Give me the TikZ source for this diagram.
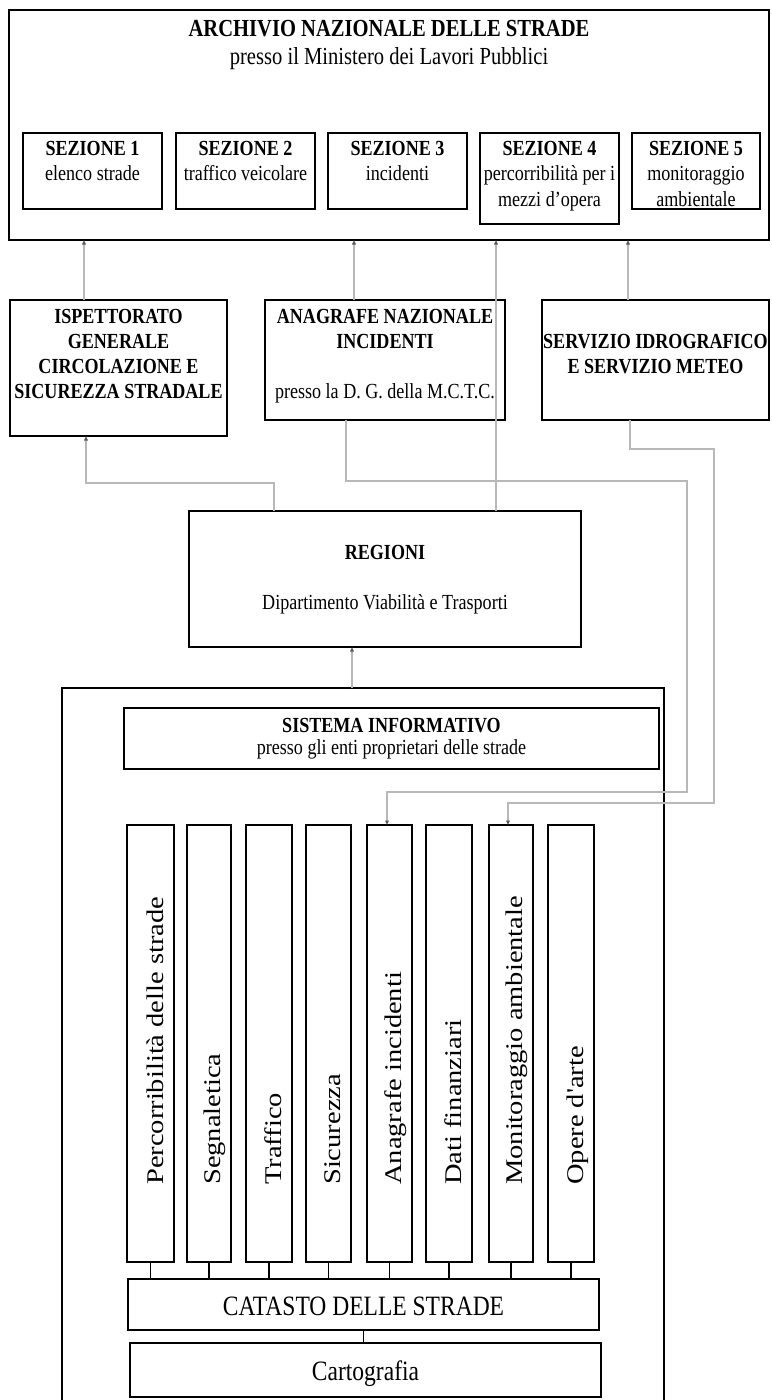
\documentclass[tikz,border=0pt]{standalone}
\usepackage{fontspec}
\setmainfont{Liberation Serif}[FakeStretch=0.84]
\newfontfamily\rotfont{Liberation Serif}
\usepackage{graphicx}
\usetikzlibrary{arrows.meta}
\begin{document}
\begin{tikzpicture}[x=1pt,y=-1pt,
  box/.style={draw=black, line width=1.5pt, inner sep=0pt, outer sep=0pt},
  conn/.style={draw=black!28, line width=1.4pt, -{Triangle[length=4.5pt,width=3.6pt,color=black!65]}},
  plainline/.style={draw=black, line width=1.2pt},
  ttl/.style={anchor=base, inner sep=0pt, font=\bfseries\fontsize{24.5}{26}\selectfont},
  sub/.style={anchor=base, inner sep=0pt, font=\fontsize{24.5}{26}\selectfont},
  hb/.style={anchor=base, inner sep=0pt, font=\bfseries\fontsize{21.5}{24}\selectfont},
  hr/.style={anchor=base, inner sep=0pt, font=\fontsize{21.5}{24}\selectfont},
  big/.style={anchor=base, inner sep=0pt, font=\fontsize{28}{30}\selectfont},
  coltext/.style={rotate=90, anchor=base west, inner sep=0pt, font=\rotfont\fontsize{28.5}{30}\selectfont},
]
\useasboundingbox (0,0) rectangle (771,1400);

% ---------- top archive box ----------
\node[box, minimum width=760pt, minimum height=230pt] (arch) at (389,125) {};
\node[ttl] (archT) at (389,36) {ARCHIVIO NAZIONALE DELLE STRADE};
\node[sub] (archS) at (389,64) {presso il Ministero dei Lavori Pubblici};

\node[box, minimum width=139pt, minimum height=76pt] (s1) at (92.5,171) {};
\node[box, minimum width=139pt, minimum height=76pt] (s2) at (245.5,171) {};
\node[box, minimum width=139pt, minimum height=76pt] (s3) at (397.5,171) {};
\node[box, minimum width=139pt, minimum height=91pt] (s4) at (549.5,178.5) {};
\node[box, minimum width=128pt, minimum height=76pt] (s5) at (696,171) {};

\node[hb] (s1a) at (92.5,155) {SEZIONE 1};
\node[hr] (s1b) at (92.5,180.5) {elenco strade};
\node[hb] (s2a) at (245.5,155) {SEZIONE 2};
\node[hr] (s2b) at (245.5,180.5) {traffico veicolare};
\node[hb] (s3a) at (397.5,155) {SEZIONE 3};
\node[hr] (s3b) at (397.5,180.5) {incidenti};
\node[hb] (s4a) at (549.5,155) {SEZIONE 4};
\node[hr] (s4b) at (549.5,180.5) {percorribilità per i};
\node[hr] (s4c) at (549.5,206.5) {mezzi d'opera};
\node[hb] (s5a) at (696,155) {SEZIONE 5};
\node[hr] (s5b) at (696,180.5) {monitoraggio};
\node[hr] (s5c) at (696,206.5) {ambientale};

% ---------- middle row ----------
\node[box, minimum width=217pt, minimum height=136pt] (isp) at (118.5,368) {};
\node[hb] (ispa) at (118.5,323) {ISPETTORATO};
\node[hb] (ispb) at (118.5,348) {GENERALE};
\node[hb] (ispc) at (118.5,373) {CIRCOLAZIONE E};
\node[hb] (ispd) at (118.5,398) {SICUREZZA STRADALE};

\node[box, minimum width=240pt, minimum height=120pt] (ana) at (385,360) {};
\node[hb] (anaa) at (385,323) {ANAGRAFE NAZIONALE};
\node[hb] (anab) at (385,348) {INCIDENTI};
\node[hr] (anac) at (385,398) {presso la D. G. della M.C.T.C.};

\node[box, minimum width=227pt, minimum height=120pt] (ser) at (655.5,360) {};
\node[hb] (sera) at (655.5,348) {SERVIZIO IDROGRAFICO};
\node[hb] (serb) at (655.5,373) {E SERVIZIO METEO};

% ---------- regioni ----------
\node[box, minimum width=392pt, minimum height=136pt] (reg) at (385,579) {};
\node[hb] (rega) at (385,559) {REGIONI};
\node[hr] (regb) at (385,609) {Dipartimento Viabilità e Trasporti};

% ---------- lower big box ----------
\node[box, minimum width=602pt, minimum height=730pt] (bigbox) at (363,1053) {};
\node[box, minimum width=535pt, minimum height=61pt] (sis) at (391.5,738.5) {};
\node[hb] (sisa) at (391.5,732) {SISTEMA INFORMATIVO};
\node[hr] (sisb) at (391.5,754) {presso gli enti proprietari delle strade};

% columns
\node[box, minimum width=47pt, minimum height=437pt] (c1) at (150.5,1043.5) {};
\node[box, minimum width=44pt, minimum height=437pt] (c2) at (209,1043.5) {};
\node[box, minimum width=46pt, minimum height=437pt] (c3) at (269,1043.5) {};
\node[box, minimum width=45pt, minimum height=437pt] (c4) at (328.5,1043.5) {};
\node[box, minimum width=45pt, minimum height=437pt] (c5) at (389.5,1043.5) {};
\node[box, minimum width=46pt, minimum height=437pt] (c6) at (449,1043.5) {};
\node[box, minimum width=44pt, minimum height=437pt] (c7) at (511,1043.5) {};
\node[box, minimum width=46pt, minimum height=437pt] (c8) at (571,1043.5) {};

\node[coltext] (t1) at (163,1185) {\scalebox{1}[0.84]{Percorribilità delle strade}};
\node[coltext] (t2) at (220,1185) {\scalebox{1}[0.84]{Segnaletica}};
\node[coltext] (t3) at (281,1185) {\scalebox{1}[0.84]{Traffico}};
\node[coltext] (t4) at (340,1185) {\scalebox{1}[0.84]{Sicurezza}};
\node[coltext] (t5) at (401,1185) {\scalebox{1}[0.84]{Anagrafe incidenti}};
\node[coltext] (t6) at (461,1185) {\scalebox{1}[0.84]{Dati finanziari}};
\node[coltext] (t7) at (522,1185) {\scalebox{1}[0.84]{Monitoraggio ambientale}};
\node[coltext] (t8) at (583,1185) {\scalebox{1}[0.84]{Opere d'arte}};

\node[box, minimum width=471pt, minimum height=51pt] (cat) at (363.5,1304.5) {};
\node[big] (catt) at (363.5,1315) {CATASTO DELLE STRADE};
\node[box, minimum width=471pt, minimum height=54pt] (carto) at (365.5,1370) {};
\node[big] (cartot) at (365.5,1380) {Cartografia};

% ---------- helper x positions ----------
\coordinate (xa) at (84,0);
\coordinate (xb) at (354,0);
\coordinate (xc) at (496,0);
\coordinate (xd) at (628,0);
\coordinate (xe) at (274,0);
\coordinate (xf) at (86,0);
\coordinate (xg) at (352,0);
\coordinate (xh) at (346,0);
\coordinate (xi) at (630,0);
\coordinate (xj) at (508,0);
\coordinate (xk) at (387,0);

% ---------- connectors ----------
\draw[conn] (isp.north -| xa) -- (arch.south -| xa);
\draw[conn] (ana.north -| xb) -- (arch.south -| xb);
\draw[conn] (reg.north -| xc) -- (arch.south -| xc);
\draw[conn] (ser.north -| xd) -- (arch.south -| xd);
\draw[conn] (reg.north -| xe) -- ++(0,-28) -| (isp.south -| xf);
\draw[conn] (bigbox.north -| xg) -- (reg.south -| xg);
\draw[conn] (ana.south -| xh) -- (346,481) -- (687,481) -- (687,792) -- (387,792) -- (c5.north -| xk);
\draw[conn] (ser.south -| xi) -- (630,449) -- (714,449) -- (714,803) -- (508,803) -- (c7.north -| xj);

% ticks to catasto
\foreach \c in {c1,c2,c3,c4,c5,c6,c7,c8}
  \draw[plainline] (\c.south) -- (\c.south |- cat.north);
\draw[plainline] (cat.south) -- (cat.south |- carto.north);
\end{tikzpicture}
\end{document}
